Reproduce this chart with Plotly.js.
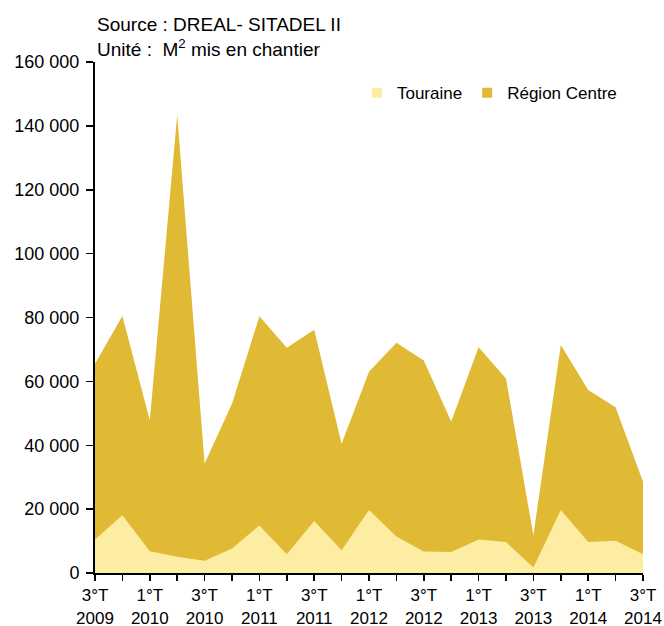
<!DOCTYPE html>
<html>
<head>
<meta charset="utf-8">
<script src="https://cdn.plot.ly/plotly-3.0.1.min.js"></script>
<style>html,body{margin:0;padding:0;background:#fff;}#chart{width:664px;height:626px;}</style>
</head>
<body>
<div id="chart"></div>
<script>
var quarters = ["3°T 2009","4°T 2009","1°T 2010","2°T 2010","3°T 2010","4°T 2010","1°T 2011","2°T 2011","3°T 2011","4°T 2011","1°T 2012","2°T 2012","3°T 2012","4°T 2012","1°T 2013","2°T 2013","3°T 2013","4°T 2013","1°T 2014","2°T 2014","3°T 2014"];
var regionCentre = [65500, 80500, 47800, 143400, 34300, 53000, 80400, 70500, 76200, 40500, 63000, 72100, 66500, 47400, 70700, 60900, 11800, 71400, 57300, 51900, 28600];
var touraine = [10500, 18100, 6800, 5100, 3800, 7700, 14900, 5900, 16300, 7100, 19700, 11400, 6700, 6600, 10500, 9700, 1700, 19700, 9700, 10100, 5900];

var idx = quarters.map(function(_, i){ return i; });
var tickText = quarters.map(function(q, i){
  if (i % 2 !== 0) return "";
  var p = q.split(" ");
  return p[0] + "<br>" + p[1];
});

var colRegion = "#E0BA35";
var colTouraine = "#FCEDA2";

var traces = [
  {x: idx, y: regionCentre, type: "scatter", mode: "lines", fill: "tozeroy",
   fillcolor: colRegion, line: {color: colRegion, width: 0}, showlegend: false, name: "Région Centre", hoverinfo: "y"},
  {x: idx, y: touraine, type: "scatter", mode: "lines", fill: "tozeroy",
   fillcolor: colTouraine, line: {color: colTouraine, width: 0}, showlegend: false, name: "Touraine", hoverinfo: "y"},
  {x: [null], y: [null], type: "scatter", mode: "markers", name: "Touraine",
   marker: {symbol: "square", size: 10, color: colTouraine}},
  {x: [null], y: [null], type: "scatter", mode: "markers", name: "Région Centre",
   marker: {symbol: "square", size: 10, color: colRegion}}
];

var fam = "Liberation Sans, Arial, sans-serif";

var layout = {
  width: 664, height: 626,
  margin: {l: 95, r: 21, t: 62, b: 53, pad: 0},
  paper_bgcolor: "#fff", plot_bgcolor: "#fff",
  font: {family: fam, size: 17, color: "#000"},
  separators: ", ",
  title: {
    text: "Source : DREAL- SITADEL II<br>Unité :  M<sup>2</sup> mis en chantier",
    xref: "container", yref: "container",
    x: 97/664, xanchor: "left", y: 1 - 31/626, yanchor: "top",
    font: {family: fam, size: 19, color: "#000"}
  },
  showlegend: true,
  legend: {
    orientation: "h", x: 0.478, xanchor: "left", y: 0.939, yanchor: "middle",
    font: {family: fam, size: 17, color: "#000"},
    bgcolor: "rgba(0,0,0,0)", itemclick: false, tracegroupgap: 0
  },
  xaxis: {
    range: [0, quarters.length - 1],
    tickmode: "array", tickvals: idx, ticktext: tickText,
    ticks: "outside", ticklen: 6, tickwidth: 1.5, tickcolor: "#000",
    showline: true, linecolor: "#000", linewidth: 2,
    showgrid: false, zeroline: false, fixedrange: true,
    tickfont: {family: fam, size: 17, color: "#000"}, tickangle: 0
  },
  yaxis: {
    range: [0, 160000], dtick: 20000, tick0: 0,
    tickformat: ",d",
    ticks: "outside", ticklen: 7, tickwidth: 1.5, tickcolor: "#000",
    ticklabelstandoff: 3,
    showline: true, linecolor: "#000", linewidth: 2,
    showgrid: false, zeroline: false, fixedrange: true,
    tickfont: {family: fam, size: 18, color: "#000"}
  }
};

Plotly.newPlot("chart", traces, layout, {displayModeBar: false, staticPlot: true});
</script>
</body>
</html>
